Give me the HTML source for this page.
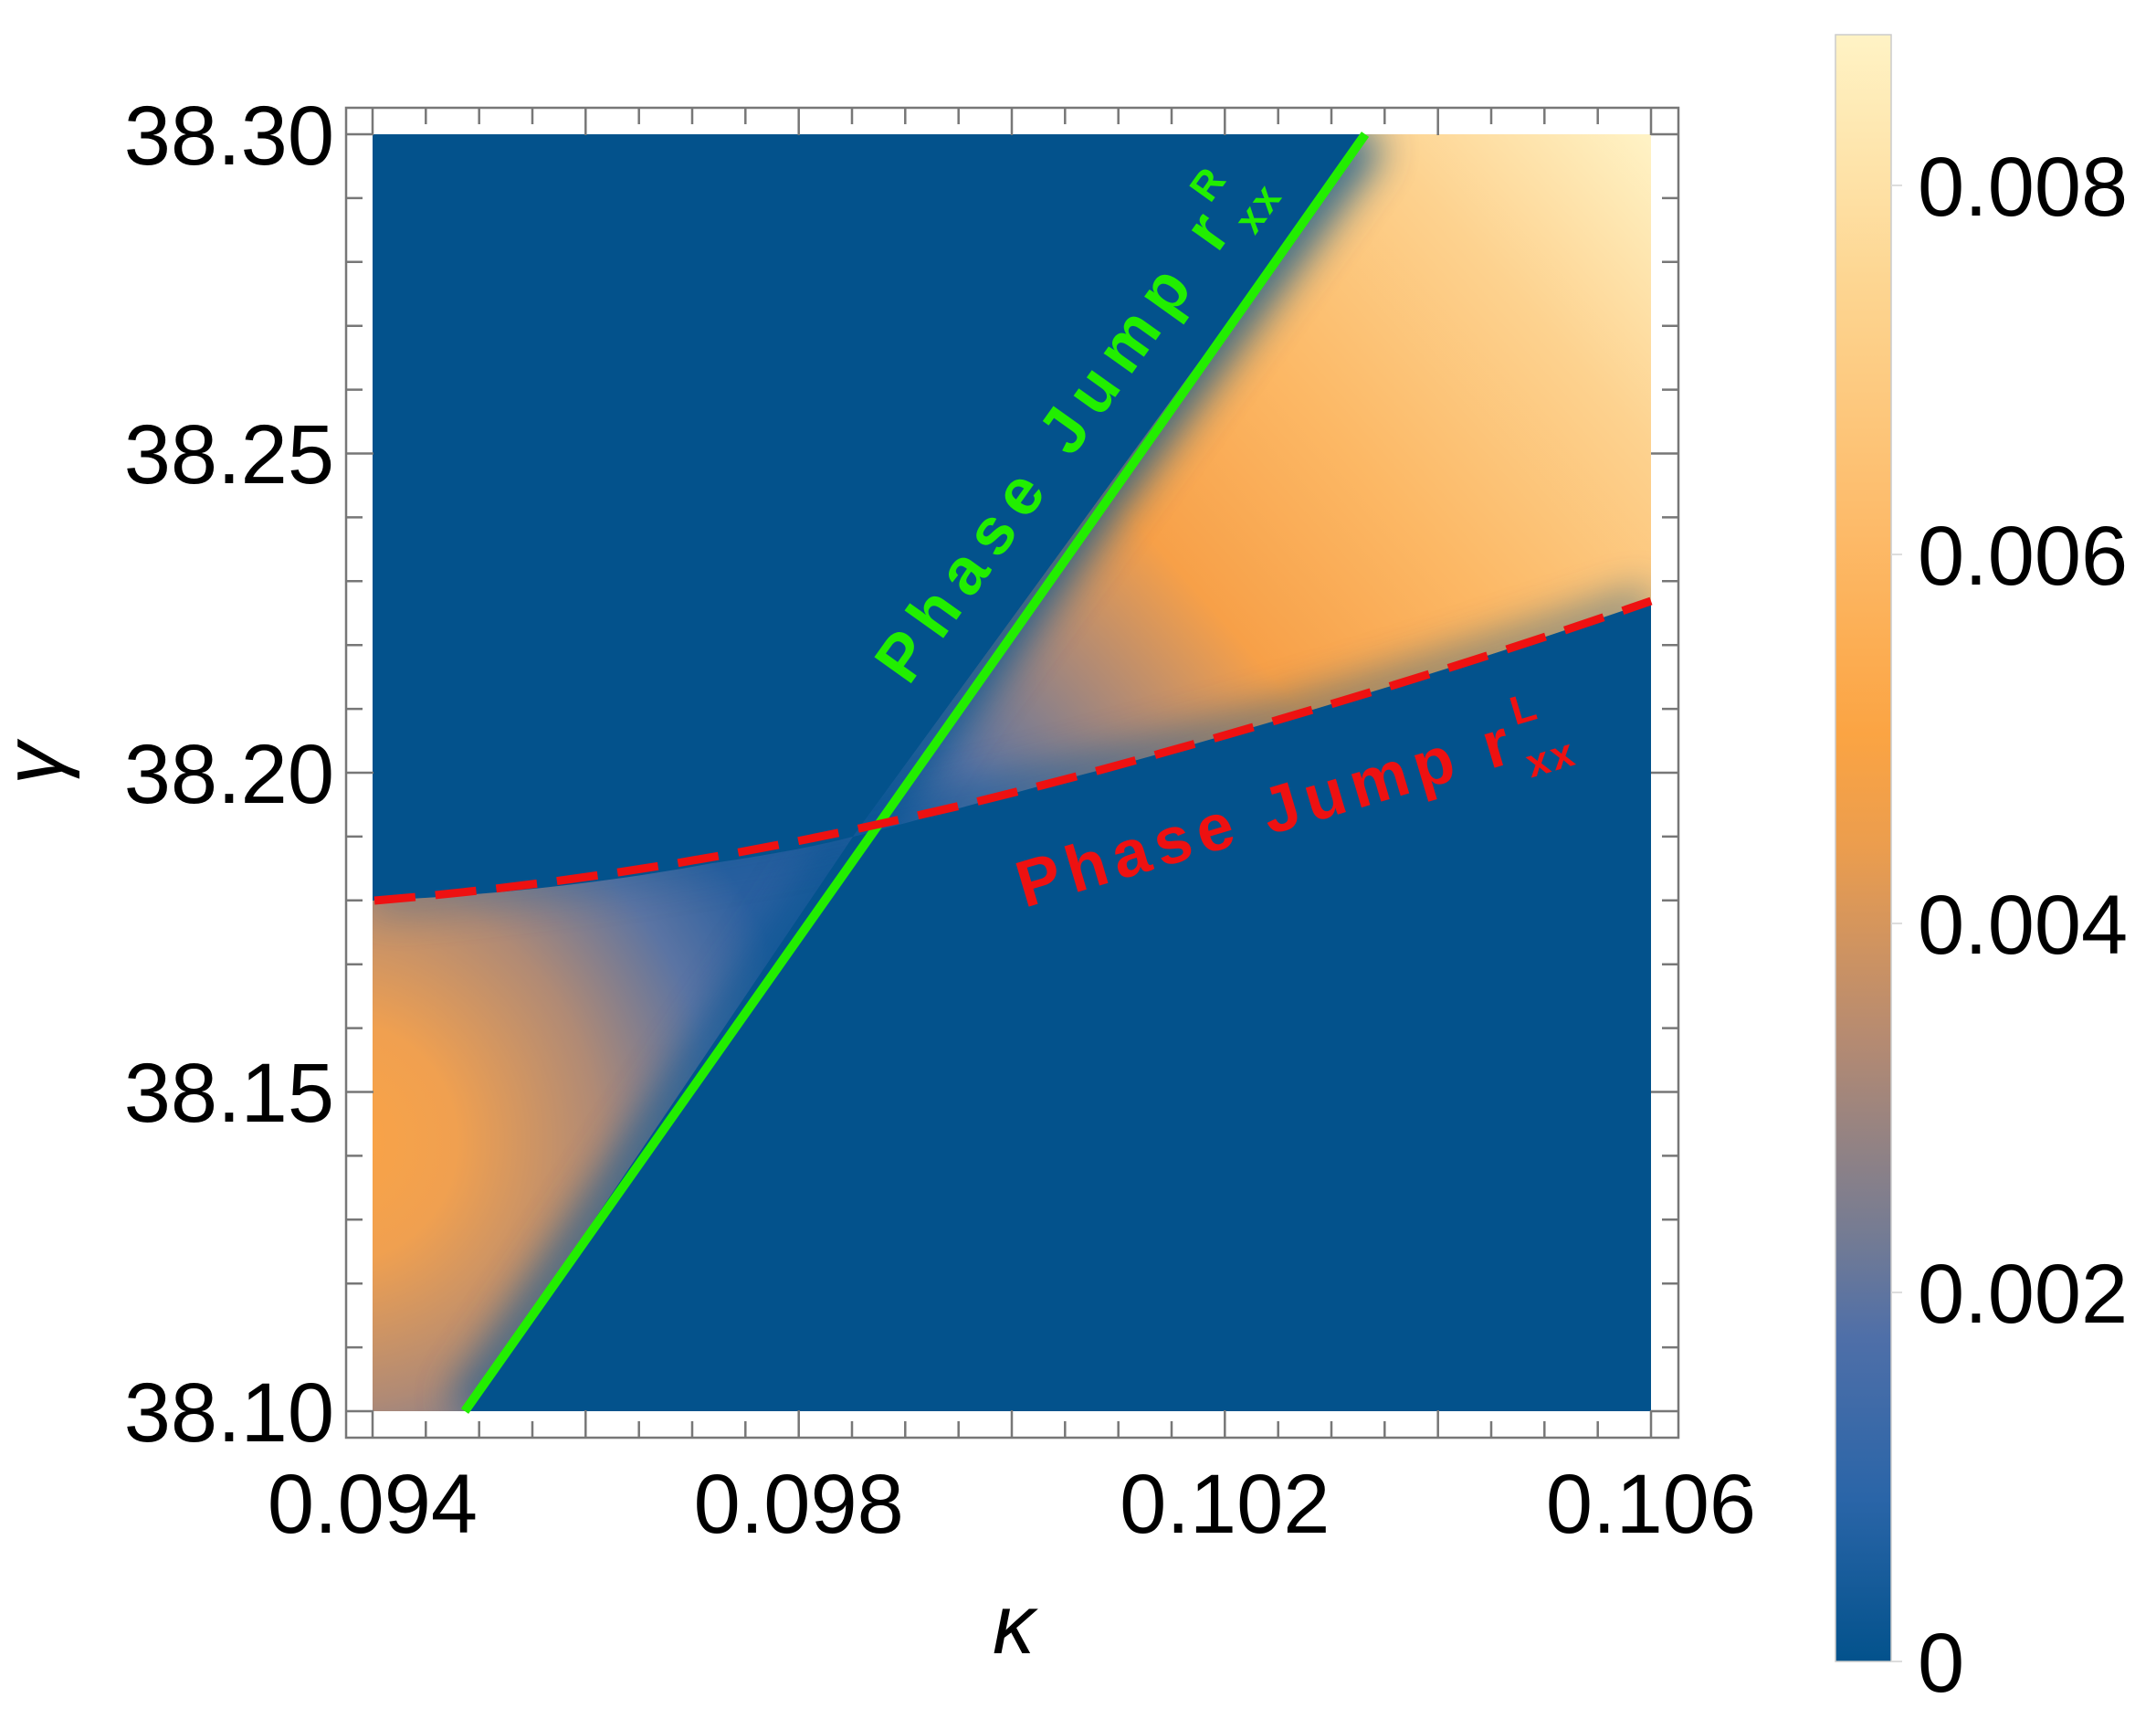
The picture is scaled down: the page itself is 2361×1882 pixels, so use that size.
<!DOCTYPE html>
<html><head><meta charset="utf-8"><style>html,body{margin:0;padding:0;background:#fff}svg{display:block}</style></head>
<body>
<svg width="2361" height="1882" viewBox="0 0 2361 1882" xmlns="http://www.w3.org/2000/svg" font-family="Liberation Sans, sans-serif">
<defs>
 <linearGradient id="ur" gradientUnits="userSpaceOnUse" x1="960" y1="900" x2="1808" y2="147">
  <stop offset="0" stop-color="#2d62a6"/>
  <stop offset="0.1" stop-color="#5a74a4"/>
  <stop offset="0.25" stop-color="#b08a75"/>
  <stop offset="0.38" stop-color="#f7a048"/>
  <stop offset="0.58" stop-color="#fcb865"/>
  <stop offset="0.8" stop-color="#fdd28f"/>
  <stop offset="1" stop-color="#fff3c6"/>
 </linearGradient>
 <radialGradient id="ll" gradientUnits="userSpaceOnUse" cx="370" cy="1250" r="520">
  <stop offset="0" stop-color="#fba445"/>
  <stop offset="0.25" stop-color="#f0a050"/>
  <stop offset="0.55" stop-color="#b08a75"/>
  <stop offset="0.8" stop-color="#5b74a3"/>
  <stop offset="1" stop-color="#2a60a0"/>
 </radialGradient>
 <linearGradient id="cb" x1="0" y1="1" x2="0" y2="0">
  <stop offset="0" stop-color="#03528c"/>
  <stop offset="0.1" stop-color="#2a65a8"/>
  <stop offset="0.2" stop-color="#4f6fa8"/>
  <stop offset="0.26" stop-color="#737b94"/>
  <stop offset="0.38" stop-color="#b48a72"/>
  <stop offset="0.5" stop-color="#eb9d4e"/>
  <stop offset="0.57" stop-color="#fba443"/>
  <stop offset="0.7" stop-color="#fdbb6a"/>
  <stop offset="0.85" stop-color="#fdd692"/>
  <stop offset="1" stop-color="#fff3c5"/>
 </linearGradient>
 <clipPath id="cur"><path d="M934,916 L1495,147 L1808,147 L1808,658 C1600,730 1400,790 1205,843 C1100,870 1000,900 934,916 Z"/></clipPath>
 <clipPath id="cll"><path d="M934,916 L509,1545 L408,1545 L408,986 C550,980 678,964 780,945 C850,935 900,925 934,916 Z"/></clipPath>
 <filter id="bl" x="-50%" y="-50%" width="200%" height="200%"><feGaussianBlur stdDeviation="22"/></filter>
</defs>

<rect x="408" y="147" width="1400" height="1398" fill="#03528c"/>
<g clip-path="url(#cur)">
 <rect x="900" y="140" width="920" height="800" fill="url(#ur)"/>
 <path d="M934,916 L1495,147" stroke="#035290" stroke-width="50" filter="url(#bl)" opacity="0.85"/>
 <path d="M408,986 C678,964 934,916 1205,843 C1400,790 1600,730 1808,658" stroke="#035290" stroke-width="30" fill="none" filter="url(#bl)" opacity="0.6"/>
</g>
<g clip-path="url(#cll)">
 <rect x="400" y="900" width="560" height="660" fill="url(#ll)"/>
 <path d="M934,916 L509,1545" stroke="#035290" stroke-width="40" filter="url(#bl)" opacity="0.7"/>
 <path d="M408,986 C678,964 934,916 1205,843" stroke="#035290" stroke-width="24" fill="none" filter="url(#bl)" opacity="0.4"/>
</g>

<path d="M509,1545 L1495,147" stroke="#22ee00" stroke-width="10" fill="none"/>
<path d="M410,986 C678,964 934,916 1205,843 C1400,790 1600,730 1808,658" stroke="#ee1111" stroke-width="9" fill="none" stroke-dasharray="45,22"/>

<g transform="translate(995,752) rotate(-54.5)" fill="#22ee00" font-weight="bold">
 <text x="0" y="0" font-size="72" textLength="610" lengthAdjust="spacing">Phase Jump r</text>
 <text x="622" y="-38" font-size="44">R</text>
 <text x="622" y="22" font-size="44" textLength="52" lengthAdjust="spacing">xx</text>
</g>
<g transform="translate(1122,994) rotate(-16.6)" fill="#ee1111" font-weight="bold">
 <text x="0" y="0" font-size="72" textLength="560" lengthAdjust="spacing">Phase Jump r</text>
 <text x="572" y="-38" font-size="44">L</text>
 <text x="572" y="22" font-size="44" textLength="52" lengthAdjust="spacing">xx</text>
</g>

<rect x="379" y="118" width="1459" height="1456" fill="none" stroke="#777" stroke-width="2.5"/>
<g stroke="#777" stroke-width="2.5">
 <path d="M408,1574v-30M641.3,1574v-30M874.7,1574v-30M1108,1574v-30M1341.3,1574v-30M1574.7,1574v-30M1808,1574v-30"/>
 <path d="M408,118v30M641.3,118v30M874.7,118v30M1108,118v30M1341.3,118v30M1574.7,118v30M1808,118v30"/>
 <path d="M466.3,1574v-18M524.7,1574v-18M583,1574v-18M699.7,1574v-18M758,1574v-18M816.3,1574v-18M933,1574v-18M991.3,1574v-18M1049.7,1574v-18M1166.3,1574v-18M1224.7,1574v-18M1283,1574v-18M1399.7,1574v-18M1458,1574v-18M1516.3,1574v-18M1633,1574v-18M1691.3,1574v-18M1749.7,1574v-18"/>
 <path d="M466.3,118v18M524.7,118v18M583,118v18M699.7,118v18M758,118v18M816.3,118v18M933,118v18M991.3,118v18M1049.7,118v18M1166.3,118v18M1224.7,118v18M1283,118v18M1399.7,118v18M1458,118v18M1516.3,118v18M1633,118v18M1691.3,118v18M1749.7,118v18"/>
 <path d="M379,147h30M379,496.5h30M379,846h30M379,1195.5h30M379,1545h30"/>
 <path d="M1838,147h-30M1838,496.5h-30M1838,846h-30M1838,1195.5h-30M1838,1545h-30"/>
 <path d="M379,216.9h18M379,286.8h18M379,356.7h18M379,426.6h18M379,566.4h18M379,636.3h18M379,706.2h18M379,776.1h18M379,915.9h18M379,985.8h18M379,1055.7h18M379,1125.6h18M379,1265.4h18M379,1335.3h18M379,1405.2h18M379,1475.1h18"/>
 <path d="M1838,216.9h-18M1838,286.8h-18M1838,356.7h-18M1838,426.6h-18M1838,566.4h-18M1838,636.3h-18M1838,706.2h-18M1838,776.1h-18M1838,915.9h-18M1838,985.8h-18M1838,1055.7h-18M1838,1125.6h-18M1838,1265.4h-18M1838,1335.3h-18M1838,1405.2h-18M1838,1475.1h-18"/>
</g>

<g font-size="92" fill="#000">
 <g text-anchor="middle">
  <text x="408" y="1678">0.094</text>
  <text x="874.7" y="1678">0.098</text>
  <text x="1341.3" y="1678">0.102</text>
  <text x="1808" y="1678">0.106</text>
 </g>
 <g text-anchor="end">
  <text x="366" y="180">38.30</text>
  <text x="366" y="529">38.25</text>
  <text x="366" y="879">38.20</text>
  <text x="366" y="1228">38.15</text>
  <text x="366" y="1578">38.10</text>
 </g>
</g>
<text x="1110" y="1810" font-size="92" font-style="italic" text-anchor="middle">κ</text>
<text transform="translate(68,836) rotate(-90)" font-size="92" font-style="italic" text-anchor="middle">γ</text>

<rect x="2010" y="38" width="61" height="1781" fill="url(#cb)" stroke="#ccc" stroke-width="1.5"/>
<g stroke="#ddd" stroke-width="2">
 <path d="M2071,1819h12M2071,1415h12M2071,1011h12M2071,607h12M2071,203h12"/>
</g>
<g font-size="92" fill="#000">
 <text x="2100" y="236">0.008</text>
 <text x="2100" y="640">0.006</text>
 <text x="2100" y="1044">0.004</text>
 <text x="2100" y="1448">0.002</text>
 <text x="2100" y="1852">0</text>
</g>
</svg>
</body></html>
